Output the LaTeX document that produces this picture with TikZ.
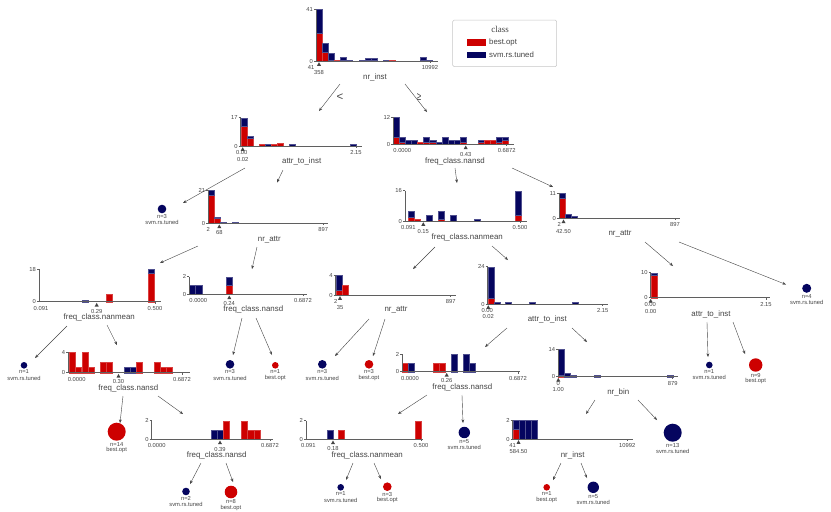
\documentclass[tikz,border=0pt]{standalone}
\usepackage{fontspec}
\setmainfont{Liberation Sans}
\newfontfamily\serifF{Liberation Serif}
\usetikzlibrary{arrows.meta}
\definecolor{bestc}{RGB}{205,0,0}
\definecolor{svmc}{RGB}{5,5,95}
\definecolor{axc}{RGB}{95,95,95}
\definecolor{txc}{RGB}{68,68,68}
\tikzset{
  tick/.style={font=\fontsize{5.8}{6}\selectfont, text=txc, inner sep=0pt},
  feat/.style={font=\fontsize{7.9}{8}\selectfont, text=txc, inner sep=0pt},
  leaftxt/.style={font=\fontsize{5.8}{6}\selectfont, text=txc, inner sep=0pt},
  edge/.style={draw=txc, line width=0.4pt, -{Stealth[length=3.6pt,width=2.8pt]}},
  axisline/.style={draw=axc, line width=0.6pt},
  redbar/.style={fill=bestc, draw=bestc!75!white, line width=0.25pt},
  bluebar/.style={fill=svmc, draw=svmc!70!white, line width=0.25pt},
  cmp/.style={font=\fontsize{11.5}{12}\selectfont, text=txc, inner sep=0pt},
}
% bars: base, width, unit, list x/red/blue
\newcommand\hbars[4]{%
  \foreach \xx/\rr/\bb in {#4}{%
    \ifnum\rr>0 \path[redbar] (\xx,#1) rectangle ++(#2,{-\rr*#3});\fi
    \ifnum\bb>0 \path[bluebar] (\xx,{#1-\rr*#3}) rectangle ++(#2,{-\bb*#3});\fi
  }}
% axes: x0, base, top, end, toplabel
\newcommand\haxes[5]{%
  \draw[axisline] (#1,#3) -- (#1,#2) -- (#4,#2);
  \draw[axisline] (#1-2,#3) -- (#1,#3);
  \draw[axisline] (#1-2,#2) -- (#1,#2);
  \node[tick,anchor=east] at (#1-3,#3) {#5};
  \node[tick,anchor=east] at (#1-3,#2) {0};
}
% x labels: base, minx, minlab, splitx, splitlab, maxx, maxlab, dy
\newcommand\hxlab[8]{%
  \draw[axisline] (#6,#1) -- ++(0,1.8);
  \node[tick] at (#2,#1+6.4) {#3};
  \node[tick] at (#6,#1+6.4) {#7};
  \fill[txc] (#4,#1+1.2) -- ++(-2,3.6) -- ++(4,0) -- cycle;
  \node[tick] at (#4,#1+#8) {#5};
}
% leaf: name, x, y, r, colour, n, label
\newcommand\leaf[7]{%
  \node[circle, fill=#5, minimum size=2*#4, inner sep=0pt] (#1) at (#2,#3) {};
  \node[leaftxt] (#1n) at (#2,#3+#4+3.3) {n=#6};
  \node[leaftxt] (#1c) at (#2,#3+#4+9.4) {#7};
}
\begin{document}
\begin{tikzpicture}[x=1pt,y=-1pt]
\useasboundingbox (0,0) rectangle (831,512);
\fill[white] (0,0) rectangle (831,512);

% ---------- legend
\draw[draw=black!22, line width=0.5pt, rounded corners=1.5pt, fill=white] (452.7,20) rectangle (556.7,66.7);
\node[font=\serifF\fontsize{9}{9}\selectfont, text=txc, inner sep=0pt] (legtitle) at (500,29) {class};
\fill[bestc] (467.3,39) rectangle (485.7,45.7);
\fill[svmc] (467.3,51.7) rectangle (485.7,58.3);
\node[font=\fontsize{7.8}{8}\selectfont, text=txc, inner sep=0pt, anchor=west] (legbest) at (489,42.4) {best.opt};
\node[font=\fontsize{7.8}{8}\selectfont, text=txc, inner sep=0pt, anchor=west] (legsvm) at (489,55) {svm.rs.tuned};

% ---------- R: root nr_inst
\hbars{61}{6.1}{1.256}{316/22/19, 322.1/7/7, 328.2/1/5, 334.3/1/0, 340.4/1/2, 346.5/0/1, 358.7/0/1, 364.8/1/1, 370.9/1/1, 383.1/0/1, 389.2/1/0, 419.7/1/2, 425.8/0/1}
\haxes{316}{61}{9.5}{437.5}{41}
\hxlab{61}{311}{41}{319}{358}{430}{10992}{12}
\node[feat] (fR) at (375,77) {nr\_inst};

% ---------- A: attr_to_inst
\hbars{146}{6.07}{1.665}{240.7/12/5, 246.8/5/1, 258.9/1/0, 265/0/1, 271.1/1/0, 277.1/2/0, 289.3/0/1, 349.9/0/1}
\haxes{240.7}{146}{117.7}{361.7}{17}
\hxlab{146}{241.7}{0.00}{242.7}{0.02}{356}{2.15}{13}
\node[feat] (fA) at (301.7,161.7) {attr\_to\_inst};

% ---------- B: freq_class.nansd
\hbars{144.3}{6.05}{2.25}{393.3/3/9, 399.35/1/2, 405.4/0/2, 411.45/0/2, 417.5/1/0, 423.55/1/2, 429.6/1/1, 435.65/0/1, 441.7/0/3, 447.75/0/2, 453.8/0/2, 459.85/1/2, 478/1/1, 484.05/2/0, 490.1/2/0, 496.15/1/2, 502.2/2/1}
\haxes{393.3}{144.3}{117.3}{514}{12}
\hxlab{144.3}{402.3}{0.0000}{465.7}{0.43}{506.7}{0.6872}{9.7}
\node[feat] (fB) at (455,161) {freq\_class.nansd};

% ---------- C: nr_attr
\hbars{223.3}{6}{1.586}{208.3/18/3, 214.3/3/1, 220.3/0/1, 232.3/0/1}
\haxes{208.3}{223.3}{190}{328.3}{21}
\hxlab{223.3}{208.3}{2}{219.3}{68}{323.3}{897}{9.4}
\node[feat] (fC) at (269.3,239.3) {nr\_attr};

% ---------- D: freq_class.nanmean
\hbars{221}{6.1}{1.894}{408.3/2/3, 414.4/1/0, 426/0/3, 438.3/1/4, 450/0/3, 474/0/1, 515/3/13}
\haxes{405}{221}{190.7}{526.7}{16}
\hxlab{221}{408.3}{0.091}{423.3}{0.15}{520}{0.500}{10}
\node[feat] (fD) at (467.3,237.3) {freq\_class.nanmean};

% ---------- E: nr_attr
\hbars{218.3}{6.1}{2.27}{559/9/2, 565.1/0/2, 571.2/0/1}
\haxes{559}{218.3}{193.3}{680}{11}
\hxlab{218.3}{559.3}{2}{563.5}{42.50}{675}{897}{13.6}
\node[feat] (fE) at (620,233.3) {nr\_attr};

% ---------- F: attr_to_inst
\hbars{297.7}{6}{2.5}{650.7/9/1}
\haxes{650.7}{297.7}{272.7}{770}{10}
\hxlab{297.7}{650.3}{0.00}{650.7}{0.00}{766}{2.15}{13.3}
\node[feat] (fF) at (711,314) {attr\_to\_inst};

% ---------- G: freq_class.nanmean
\hbars{301.7}{6}{1.817}{82.3/0/1, 106/4/0, 147.7/16/2}
\haxes{39}{301.7}{269}{161}{18}
\hxlab{301.7}{41}{0.091}{96.7}{0.29}{155}{0.500}{9.3}
\node[feat] (fG) at (99.3,317) {freq\_class.nanmean};

% ---------- H: freq_class.nansd
\hbars{294.3}{6.3}{8.8}{189.3/0/1, 195.6/0/1, 226/1/1}
\haxes{189.3}{294.3}{276.7}{307}{2}
\hxlab{294.3}{198.3}{0.0000}{229.3}{0.24}{303}{0.6872}{9}
\node[feat] (fH) at (253.3,309.3) {freq\_class.nansd};

% ---------- I: freq_class.nansd
\hbars{372.7}{6.1}{5.1}{69.3/4/0, 75.4/1/0, 81.7/4/0, 87.8/1/0, 100/2/0, 106.1/2/0, 124/0/1, 130.1/0/1, 136.2/2/0, 154/2/0, 160.1/1/0, 166.2/1/0}
\haxes{68.3}{372.7}{352.3}{190}{4}
\hxlab{372.7}{76.7}{0.0000}{118.5}{0.30}{182}{0.6872}{9}
\node[feat] (fI) at (128.3,388.3) {freq\_class.nansd};

% ---------- J: freq_class.nansd
\hbars{439.3}{6.1}{9.3}{211/0/1, 217.1/0/1, 223.2/2/0, 241.5/2/0, 247.6/1/0, 253.7/1/0}
\haxes{151.7}{439.3}{420.7}{273.3}{2}
\hxlab{439.3}{156.7}{0.0000}{220}{0.39}{270}{0.6872}{9.7}
\node[feat] (fJ) at (216.7,455.7) {freq\_class.nansd};

% ---------- K: nr_attr
\hbars{295}{6}{5}{335.7/1/3, 341.7/2/0}
\haxes{335.7}{295}{275}{456}{4}
\hxlab{295}{335.7}{2}{340}{35}{450.7}{897}{12.7}
\node[feat] (fK) at (396,310) {nr\_attr};

% ---------- L: attr_to_inst
\hbars{304}{6}{1.554}{487.7/4/20, 493.7/0/1, 505.4/0/1, 529.5/0/1, 571.8/0/1}
\haxes{487.7}{304}{266.7}{608.3}{24}
\hxlab{304}{487.3}{0.00}{488.3}{0.02}{602.7}{2.15}{12.7}
\node[feat] (fL) at (547.3,319.3) {attr\_to\_inst};

% ---------- M: freq_class.nansd
\hbars{371.7}{6}{8.85}{402.5/1/0, 408.5/0/1, 432.7/1/0, 438.7/1/0, 450.7/0/2, 462.7/0/2, 468.7/0/1}
\haxes{402.3}{371.7}{354}{520}{2}
\hxlab{371.7}{410}{0.0000}{446.7}{0.26}{518}{0.6872}{9}
\node[feat] (fM) at (462.3,387.3) {freq\_class.nansd};

% ---------- N: freq_class.nanmean
\hbars{439.3}{6}{9.3}{326.7/0/1, 338.3/1/0, 415/2/0}
\haxes{306}{439.3}{420.7}{423.3}{2}
\hxlab{439.3}{308.3}{0.091}{333}{0.18}{421}{0.500}{9}
\node[feat] (fN) at (367.3,455) {freq\_class.nanmean};

% ---------- O: nr_bin
\hbars{376.7}{6}{1.98}{558.3/1/13, 564.3/0/2, 570.3/0/1, 594.3/0/1, 666.7/0/1}
\haxes{558.3}{376.7}{349}{678.3}{14}
\hxlab{376.7}{558.3}{0}{558.3}{1.00}{672.7}{879}{12.6}
\node[feat] (fO) at (618.3,392.7) {nr\_bin};

% ---------- P: nr_inst
\hbars{439}{6}{9.5}{512.7/1/1, 518.7/0/2, 524.7/0/2, 530.7/0/2}
\haxes{512.7}{439}{420}{632.7}{2}
\hxlab{439}{512.7}{41}{518.5}{584.50}{627.3}{10992}{12.7}
\node[feat] (fP) at (572.7,455) {nr\_inst};

% ---------- leaves
\leaf{a1}{162}{209}{4.3}{svmc}{3}{svm.rs.tuned}
\leaf{e2}{806.7}{288.3}{4.5}{svmc}{4}{svm.rs.tuned}
\leaf{g1}{24}{365.3}{3.3}{svmc}{1}{svm.rs.tuned}
\leaf{h1}{230}{364.3}{4.3}{svmc}{3}{svm.rs.tuned}
\leaf{h2}{275.3}{365.3}{3.3}{bestc}{1}{best.opt}
\leaf{k1}{322.3}{364.3}{4.3}{svmc}{3}{svm.rs.tuned}
\leaf{k2}{369}{364.3}{4.3}{bestc}{3}{best.opt}
\leaf{f1}{709.3}{365}{3.3}{svmc}{1}{svm.rs.tuned}
\leaf{f2}{755.7}{365}{6.7}{bestc}{9}{best.opt}
\leaf{i1}{116.7}{431.7}{9}{bestc}{14}{best.opt}
\leaf{m2}{464.3}{432.5}{5.7}{svmc}{5}{svm.rs.tuned}
\leaf{o2}{672.7}{432.7}{9}{svmc}{13}{svm.rs.tuned}
\leaf{j1}{186}{491.5}{3.8}{svmc}{2}{svm.rs.tuned}
\leaf{j2}{231}{492}{6.3}{bestc}{8}{best.opt}
\leaf{n1}{340.7}{487.3}{3.3}{svmc}{1}{svm.rs.tuned}
\leaf{n2}{387.3}{486.7}{4.3}{bestc}{3}{best.opt}
\leaf{p1}{546.7}{487.3}{3.3}{bestc}{1}{best.opt}
\leaf{p2}{593.3}{487.3}{5.7}{svmc}{5}{svm.rs.tuned}

% ---------- connector end points
\coordinate (R-l) at (340,84);   \coordinate (A-in) at (319,111);
\coordinate (R-r) at (405,84);   \coordinate (B-in) at (427,112);
\coordinate (A-l) at (245,168);  \coordinate (a1-in) at (183,203);
\coordinate (A-r) at (283,170);  \coordinate (C-in) at (277,182.5);
\coordinate (B-l) at (455,168);  \coordinate (D-in) at (457,183);
\coordinate (B-r) at (512,168);  \coordinate (E-in) at (553,187);
\coordinate (C-l) at (198,246);  \coordinate (G-in) at (160,263);
\coordinate (C-r) at (257,247);  \coordinate (H-in) at (252,269);
\coordinate (D-l) at (435,247);  \coordinate (K-in) at (413,269);
\coordinate (D-r) at (492,246);  \coordinate (L-in) at (508,260);
\coordinate (E-l) at (645,242);  \coordinate (F-in) at (673,266);
\coordinate (E-r) at (679,242);  \coordinate (e2-in) at (786,284.5);
\coordinate (G-l) at (67,326);   \coordinate (g1-in) at (35,358);
\coordinate (G-r) at (107,325);  \coordinate (I-in) at (117,345);
\coordinate (H-l) at (242,318);  \coordinate (h1-in) at (233,355);
\coordinate (H-r) at (256,318);  \coordinate (h2-in) at (272,355);
\coordinate (K-l) at (369,319);  \coordinate (k1-in) at (335,356);
\coordinate (K-r) at (385,319);  \coordinate (k2-in) at (373,356);
\coordinate (L-l) at (507,328);  \coordinate (M-in) at (485,347);
\coordinate (L-r) at (572,328);  \coordinate (O-in) at (587,342);
\coordinate (F-l) at (707,322);  \coordinate (f1-in) at (708,357);
\coordinate (F-r) at (733,322);  \coordinate (f2-in) at (745,354);
\coordinate (I-l) at (123,396);  \coordinate (i1-in) at (120,423);
\coordinate (I-r) at (158,396);  \coordinate (J-in) at (183,414);
\coordinate (M-l) at (427,395);  \coordinate (N-in) at (398,414);
\coordinate (M-r) at (462,395);  \coordinate (m2-in) at (463,423);
\coordinate (O-l) at (595,400);  \coordinate (P-in) at (586,414);
\coordinate (O-r) at (638,400);  \coordinate (o2-in) at (657,420);
\coordinate (J-l) at (201,463);  \coordinate (j1-in) at (190,484);
\coordinate (J-r) at (226,463);  \coordinate (j2-in) at (233,482);
\coordinate (N-l) at (353,463);  \coordinate (n1-in) at (346,480);
\coordinate (N-r) at (374,463);  \coordinate (n2-in) at (381,479);
\coordinate (P-l) at (561,463);  \coordinate (p1-in) at (553,480);
\coordinate (P-r) at (581,463);  \coordinate (p2-in) at (587,478);

\foreach \s/\t in {R-l/A-in, R-r/B-in, A-l/a1-in, A-r/C-in, B-l/D-in, B-r/E-in,
  C-l/G-in, C-r/H-in, D-l/K-in, D-r/L-in, E-l/F-in, E-r/e2-in, G-l/g1-in, G-r/I-in,
  H-l/h1-in, H-r/h2-in, K-l/k1-in, K-r/k2-in, L-l/M-in, L-r/O-in, F-l/f1-in, F-r/f2-in,
  I-l/i1-in, I-r/J-in, M-l/N-in, M-r/m2-in, O-l/P-in, O-r/o2-in, J-l/j1-in, J-r/j2-in,
  N-l/n1-in, N-r/n2-in, P-l/p1-in, P-r/p2-in}
  \draw[edge] (\s) -- (\t);

\node[cmp] (lt) at (340,97) {<};
\node[cmp, xscale=0.7] (ge) at (419,97) {≥};
\end{tikzpicture}
\end{document}
